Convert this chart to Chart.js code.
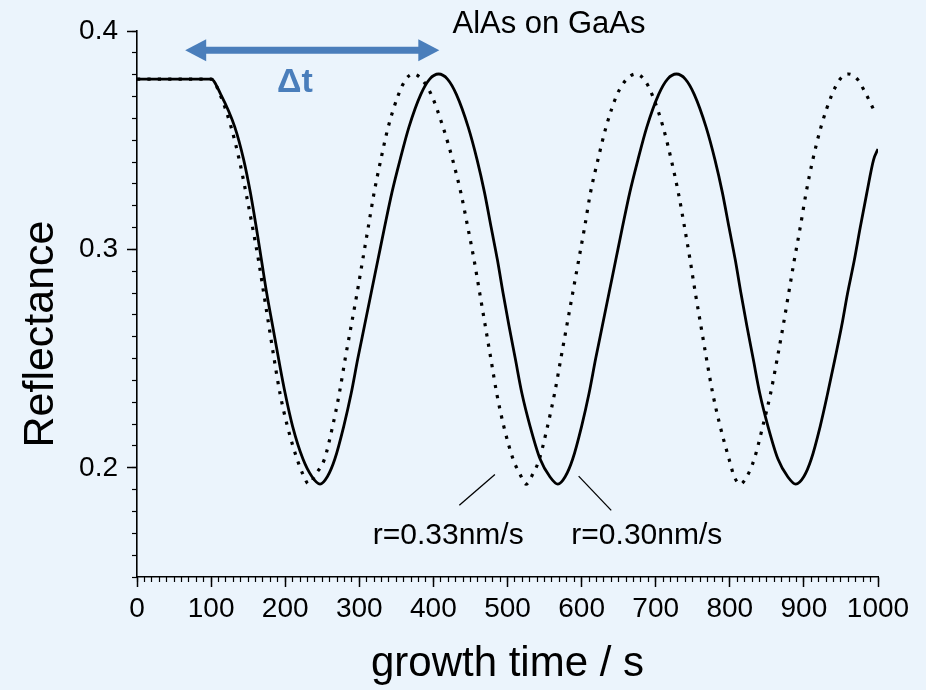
<!DOCTYPE html>
<html>
<head>
<meta charset="utf-8">
<title>AlAs on GaAs</title>
<script src="https://cdn.jsdelivr.net/npm/chart.js@4.4.1/dist/chart.umd.min.js"></script>
<style>
  html, body { margin: 0; padding: 0; background: #ebf4fc; }
  #chart { display: block; }
</style>
</head>
<body>
<canvas id="chart" width="926" height="690"></canvas>
<script>
// curva r=0.30nm/s (linha cheia): tempo (s) e refletancia
const tempoCheia = [0, 100, 113, 132, 144, 153, 161, 168, 175, 183, 191, 200, 210, 224, 236, 247,
  257, 267, 279, 289, 298, 307, 316, 325, 334, 344, 355, 367, 383, 395, 407,
  419, 431, 447, 459, 469, 478, 486.5, 494, 502, 510.5, 519.5, 530.5, 544, 557, 568,
  578, 588, 600, 610, 619, 628, 637, 646, 655, 665, 676, 688, 704, 716, 728,
  740, 752, 768, 780, 790, 799, 807.5, 815, 823, 831.5, 840.5, 851.5, 865, 878, 889,
  900, 910, 922, 932, 942, 951, 959, 968, 976, 985, 994, 1000];
const reflCheia = [0.378, 0.378, 0.371, 0.356, 0.341, 0.326, 0.310, 0.295, 0.280, 0.265, 0.250, 0.234, 0.219, 0.204, 0.196, 0.1925,
  0.196, 0.204, 0.219, 0.234, 0.250, 0.265, 0.280, 0.295, 0.310, 0.326, 0.341, 0.356, 0.371, 0.378, 0.3803,
  0.378, 0.371, 0.356, 0.341, 0.326, 0.310, 0.295, 0.280, 0.265, 0.250, 0.234, 0.219, 0.204, 0.196, 0.1925,
  0.196, 0.204, 0.219, 0.234, 0.250, 0.265, 0.280, 0.295, 0.310, 0.326, 0.341, 0.356, 0.371, 0.378, 0.3803,
  0.378, 0.371, 0.356, 0.341, 0.326, 0.310, 0.295, 0.280, 0.265, 0.250, 0.234, 0.219, 0.204, 0.196, 0.1925,
  0.196, 0.204, 0.219, 0.234, 0.250, 0.265, 0.280, 0.295, 0.310, 0.326, 0.341, 0.346];

// curva r=0.33nm/s (pontilhada)
const tempoPontos = [0, 100, 112, 127, 138, 147, 156, 164, 171, 178, 185, 193, 203, 216, 224, 232,
  241, 253, 264, 273, 281, 289, 297, 304.5, 312, 320, 329, 339, 353, 363, 373,
  384, 397, 413, 426, 437, 446.5, 455, 462.5, 470, 477.5, 485.5, 495, 507.5, 517, 525,
  534, 543, 554, 563.5, 572, 580, 588, 596, 604, 612, 622, 633, 648, 661, 673,
  684, 695, 710, 721, 730.5, 739, 746.5, 753.5, 761, 768.5, 777, 787, 799, 806, 814,
  823, 833, 844.5, 855, 864, 872, 879.5, 887, 895, 903, 912, 923, 938, 949, 960,
  972, 984, 997];
const reflPontos = [0.378, 0.378, 0.371, 0.356, 0.341, 0.326, 0.310, 0.295, 0.280, 0.265, 0.250, 0.234, 0.219, 0.204, 0.197, 0.1925,
  0.197, 0.204, 0.219, 0.234, 0.250, 0.265, 0.280, 0.295, 0.310, 0.326, 0.341, 0.356, 0.371, 0.378, 0.3803,
  0.378, 0.371, 0.356, 0.341, 0.326, 0.310, 0.295, 0.280, 0.265, 0.250, 0.234, 0.219, 0.204, 0.197, 0.1925,
  0.197, 0.204, 0.219, 0.234, 0.250, 0.265, 0.280, 0.295, 0.310, 0.326, 0.341, 0.356, 0.371, 0.378, 0.3803,
  0.378, 0.371, 0.356, 0.341, 0.326, 0.310, 0.295, 0.280, 0.265, 0.250, 0.234, 0.219, 0.204, 0.196, 0.1925,
  0.196, 0.204, 0.219, 0.234, 0.250, 0.265, 0.280, 0.295, 0.310, 0.326, 0.341, 0.356, 0.371, 0.378, 0.3803,
  0.378, 0.371, 0.362];

// marcas dos eixos
const ticksX = [0, 100, 200, 300, 400, 500, 600, 700, 800, 900, 1000];
const ticksY = [0.2, 0.3, 0.4];

// anotacoes (em coordenadas dos dados)
const notas = {
  seta: {x1: 65, x2: 408, y: 0.3912},
  delta: {x: 213, y: 0.3721, texto: '\u0394t'},
  amostra: {x: 556, y: 0.3993, texto: 'AlAs on GaAs'},
  taxas: [
    {x: 420, y: 0.1653, texto: 'r=0.33nm/s', linha: [435, 0.1828, 483, 0.1969]},
    {x: 688, y: 0.1653, texto: 'r=0.30nm/s', linha: [596, 0.1962, 640, 0.1805]}
  ]
};

const fonte = '"Liberation Sans", Arial, Helvetica, sans-serif';
const azul = '#4a7ebb';
Chart.defaults.font.family = fonte;
Chart.defaults.color = '#000';

function pares(xs, ys) {
  return xs.map((t, i) => ({x: t, y: ys[i]}));
}

// desenha seta dupla, textos e titulo do eixo y
const pluginNotas = {
  id: 'notas',
  afterDatasetsDraw(chart) {
    const ctx = chart.ctx;
    const sx = chart.scales.x, sy = chart.scales.y;
    const area = chart.chartArea;
    ctx.save();

    // seta do delta t
    let xa = sx.getPixelForValue(notas.seta.x1);
    let xb = sx.getPixelForValue(notas.seta.x2);
    let y = sy.getPixelForValue(notas.seta.y);
    const cab = 21, meia = 11;
    ctx.strokeStyle = azul;
    ctx.fillStyle = azul;
    ctx.lineWidth = 7;
    ctx.beginPath();
    ctx.moveTo(xa + cab - 2, y);
    ctx.lineTo(xb - cab + 2, y);
    ctx.stroke();
    ctx.beginPath();
    ctx.moveTo(xa, y);
    ctx.lineTo(xa + cab, y - meia);
    ctx.lineTo(xa + cab, y + meia);
    ctx.closePath();
    ctx.fill();
    ctx.beginPath();
    ctx.moveTo(xb, y);
    ctx.lineTo(xb - cab, y - meia);
    ctx.lineTo(xb - cab, y + meia);
    ctx.closePath();
    ctx.fill();

    ctx.textAlign = 'center';
    ctx.textBaseline = 'alphabetic';
    ctx.font = 'bold 34px ' + fonte;
    ctx.fillText(notas.delta.texto, sx.getPixelForValue(notas.delta.x), sy.getPixelForValue(notas.delta.y));

    ctx.fillStyle = '#000';
    ctx.font = '31px ' + fonte;
    ctx.fillText(notas.amostra.texto, sx.getPixelForValue(notas.amostra.x), sy.getPixelForValue(notas.amostra.y));

    ctx.font = '30px ' + fonte;
    ctx.strokeStyle = '#000';
    ctx.lineWidth = 1.3;
    notas.taxas.forEach(n => {
      ctx.fillText(n.texto, sx.getPixelForValue(n.x), sy.getPixelForValue(n.y));
      ctx.beginPath();
      ctx.moveTo(sx.getPixelForValue(n.linha[0]), sy.getPixelForValue(n.linha[1]));
      ctx.lineTo(sx.getPixelForValue(n.linha[2]), sy.getPixelForValue(n.linha[3]));
      ctx.stroke();
    });

    // titulo do eixo y
    ctx.translate(area.left - 84, (area.top + area.bottom) / 2 + 30);
    ctx.rotate(-Math.PI / 2);
    ctx.font = '43px ' + fonte;
    ctx.fillText('Reflectance', 0, 0);
    ctx.restore();
  }
};

graficoRefletancia();
function graficoRefletancia() {
  let ctx = document.getElementById('chart').getContext('2d');
  let chart = new Chart(ctx, {
    type: 'line',
    data: {
      datasets: [
        {label: 'r=0.30nm/s', data: pares(tempoCheia, reflCheia), borderColor: '#000', borderWidth: 2.8,
          pointRadius: 0, fill: false, cubicInterpolationMode: 'monotone'},
        {label: 'r=0.33nm/s', data: pares(tempoPontos, reflPontos), borderColor: '#000', borderWidth: 3.2,
          borderDash: [3.2, 7.2], borderCapStyle: 'butt', pointRadius: 0, fill: false, cubicInterpolationMode: 'monotone'}
      ]
    },
    options: {
      responsive: false,
      animation: false,
      layout: {padding: {left: 0, top: 31, right: 48, bottom: 0}},
      plugins: {legend: {display: false}, tooltip: {enabled: false}},
      scales: {
        x: {
          type: 'linear', position: 'bottom', min: 0, max: 1000,
          afterBuildTicks: s => { s.ticks = ticksX.map(v => ({value: v})); },
          afterFit: s => { s.height = 113; },
          ticks: {autoSkip: false, maxRotation: 0, padding: 5, font: {size: 28}, callback: v => String(v)},
          grid: {drawOnChartArea: false, tickLength: 10, tickColor: '#000', tickWidth: 1.5},
          border: {color: '#000', width: 1.6},
          title: {display: true, text: 'growth time / s', font: {size: 42}, padding: {top: 0, bottom: 0}}
        },
        y: {
          type: 'linear', position: 'left', min: 0.15, max: 0.4,
          afterBuildTicks: s => { s.ticks = ticksY.map(v => ({value: v})); },
          afterFit: s => { s.width = 137; },
          ticks: {autoSkip: false, padding: 9, font: {size: 28}, callback: v => v.toFixed(1)},
          grid: {drawOnChartArea: false, tickLength: 10, tickColor: '#000', tickWidth: 1.5},
          border: {color: '#000', width: 1.6}
        },
        xMenor: {
          axis: 'x', type: 'linear', position: {y: 0.15}, min: 0, max: 1000,
          ticks: {display: false, stepSize: 10, autoSkip: false},
          grid: {drawOnChartArea: false, tickLength: 5, tickColor: '#000', tickWidth: 1.2},
          border: {display: false}
        },
        yMenor: {
          axis: 'y', type: 'linear', position: {x: 0}, min: 0.15, max: 0.4,
          ticks: {display: false, stepSize: 0.01, autoSkip: false},
          grid: {drawOnChartArea: false, tickLength: 5, tickColor: '#000', tickWidth: 1.2},
          border: {display: false}
        }
      }
    },
    plugins: [pluginNotas]
  });
}
</script>
</body>
</html>
